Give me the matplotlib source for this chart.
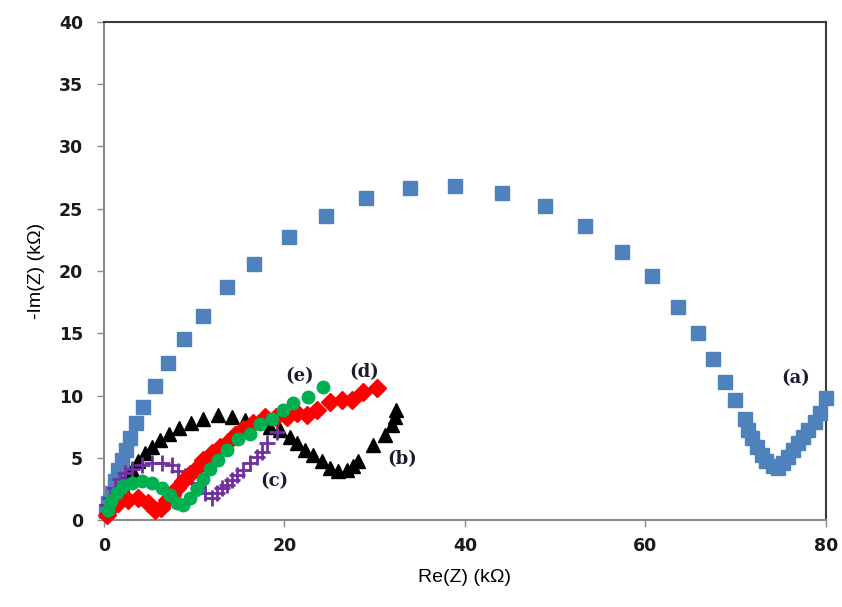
import matplotlib
matplotlib.use("Agg")
import matplotlib.pyplot as plt

# Nyquist data, Re(Z) and -Im(Z) in kOhm
a_re = [0.2, 0.5, 0.9, 1.2, 1.6, 2.0, 2.4, 2.9, 3.6, 4.3, 5.65, 7.1, 8.9, 11.0, 13.6, 16.6,
        20.5, 24.6, 29.0, 33.9, 38.9, 44.1, 48.9, 53.3, 57.4, 60.7, 63.6, 65.8, 67.5, 68.8,
        69.9, 71.0, 71.4, 71.8, 72.3, 72.9, 73.4, 74.1, 74.7, 75.2, 75.8, 76.3, 76.9, 77.4,
        78.0, 78.8, 79.3, 80.0]
a_im = [0.7, 1.4, 2.2, 3.1, 4.0, 4.8, 5.6, 6.6, 7.8, 9.1, 10.8, 12.6, 14.5, 16.4, 18.7, 20.6,
        22.7, 24.4, 25.9, 26.7, 26.8, 26.3, 25.2, 23.6, 21.5, 19.6, 17.1, 15.0, 12.9, 11.1,
        9.6, 8.1, 7.2, 6.6, 5.9, 5.2, 4.7, 4.3, 4.2, 4.6, 5.1, 5.6, 6.2, 6.7,
        7.2, 7.9, 8.6, 9.8]

b_re = [0.4, 0.8, 1.2, 1.6, 2.0, 2.5, 3.1, 3.8, 4.5, 5.3, 6.2, 7.2, 8.3, 9.6, 11.0, 12.6,
        14.2, 15.6, 17.1, 18.4, 19.5, 20.6, 21.4, 22.3, 23.2, 24.2, 25.0, 25.9, 26.9, 27.6,
        28.1, 29.8, 31.1, 31.9, 32.2, 32.4]
b_im = [1.0, 1.4, 1.9, 2.5, 2.9, 3.4, 4.0, 4.7, 5.4, 5.9, 6.4, 6.9, 7.4, 7.8, 8.1, 8.4,
        8.3, 8.0, 7.9, 7.5, 7.2, 6.7, 6.2, 5.6, 5.2, 4.7, 4.2, 3.9, 4.0, 4.3,
        4.7, 6.0, 6.8, 7.6, 8.3, 8.8]

c_re = [0.3, 0.7, 1.2, 1.8, 2.3, 3.1, 4.2, 5.3, 6.4, 7.5, 8.2, 9.0, 9.7, 10.4, 11.2, 12.0,
        12.5, 13.1, 13.6, 14.2, 14.7, 15.4, 16.2, 16.9, 17.5, 18.1, 19.2]
c_im = [1.2, 1.8, 2.6, 3.3, 3.8, 4.1, 4.4, 4.6, 4.6, 4.4, 3.9, 3.5, 3.0, 2.6, 2.2, 1.8,
        2.2, 2.6, 2.8, 3.2, 3.6, 4.0, 4.6, 5.1, 5.5, 6.2, 7.1]

d_re = [0.3, 0.8, 1.5, 2.7, 3.8, 4.9, 5.6, 6.3, 7.0, 7.5, 8.1, 8.8, 9.5, 10.3, 11.0, 12.0,
        12.9, 13.7, 14.5, 15.4, 16.5, 17.8, 19.1, 20.3, 21.4, 22.5, 23.6, 25.0, 26.4, 27.5,
        28.7, 30.2]
d_im = [0.4, 1.0, 1.4, 1.6, 1.8, 1.4, 0.8, 1.0, 1.6, 2.0, 2.6, 3.1, 3.7, 4.2, 4.8, 5.4,
        5.9, 6.3, 6.8, 7.3, 7.8, 8.3, 8.3, 8.3, 8.6, 8.4, 8.8, 9.5, 9.6, 9.6,
        10.3, 10.6]

e_re = [0.4, 0.8, 1.4, 2.1, 3.1, 4.2, 5.3, 6.4, 7.3, 8.1, 8.8, 9.5, 10.3, 11.0, 11.7, 12.6,
        13.6, 14.8, 16.2, 17.3, 18.6, 19.8, 20.9, 22.6, 24.3]
e_im = [0.8, 1.5, 2.2, 2.7, 3.0, 3.1, 3.0, 2.6, 2.0, 1.4, 1.2, 1.8, 2.5, 3.3, 4.1, 4.8,
        5.6, 6.5, 6.9, 7.7, 8.1, 8.8, 9.4, 9.9, 10.7]

labels = ["(a)", "(b)", "(c)", "(d)", "(e)"]
label_pos = [(76.6, 11.4), (33.0, 4.9), (18.9, 3.1), (28.8, 11.9), (21.7, 11.6)]

fig = plt.figure(figsize=(8.42, 6.07), dpi=100)
ax = fig.add_axes([0.1235, 0.1433, 0.8575, 0.8205])

ax.plot(a_re, a_im, ls="none", marker="s", ms=10, color="#4F81BD", clip_on=False, zorder=3)
ax.plot(b_re, b_im, ls="none", marker="^", ms=10, color="black", clip_on=False, zorder=4)
ax.plot(c_re, c_im, ls="none", marker="+", ms=11, mew=2, color="#7030A0", clip_on=False, zorder=5)
ax.plot(d_re, d_im, ls="none", marker="D", ms=9.5, color="#FF0000", clip_on=False, zorder=6)
ax.plot(e_re, e_im, ls="none", marker="o", ms=9, color="#00B050", clip_on=False, zorder=7)

for txt, (x, y) in zip(labels, label_pos):
    ax.text(x, y, txt, ha="center", va="center", fontsize=13, fontweight="bold",
            family="DejaVu Serif", color="#1c1c30")

ax.set_xlim(0, 80)
ax.set_ylim(0, 40)
ax.set_xticks([0, 20, 40, 60, 80])
ax.set_yticks(range(0, 41, 5))

for side in ["left", "bottom"]:
    ax.spines[side].set_color("#8c8c8c")
    ax.spines[side].set_linewidth(1.5)
for side in ["top", "right"]:
    ax.spines[side].set_color("#3a3a3a")
    ax.spines[side].set_linewidth(1.5)

ax.tick_params(direction="out", length=5, width=1, color="#8c8c8c")
ax.tick_params(axis="x", pad=7)
ax.tick_params(axis="y", pad=10)
for lab in ax.get_xticklabels() + ax.get_yticklabels():
    lab.set_fontweight("bold")
    lab.set_fontsize(12.5)
    lab.set_family("DejaVu Sans")
    lab.set_color("#1a1a1a")

ax.set_xlabel("Re(Z) (k\u03a9)", fontsize=14, family="Liberation Sans", labelpad=10)
ax.set_ylabel("-Im(Z) (k\u03a9)", fontsize=14, family="Liberation Sans", labelpad=10)

fig.savefig("out.png", dpi=100)
